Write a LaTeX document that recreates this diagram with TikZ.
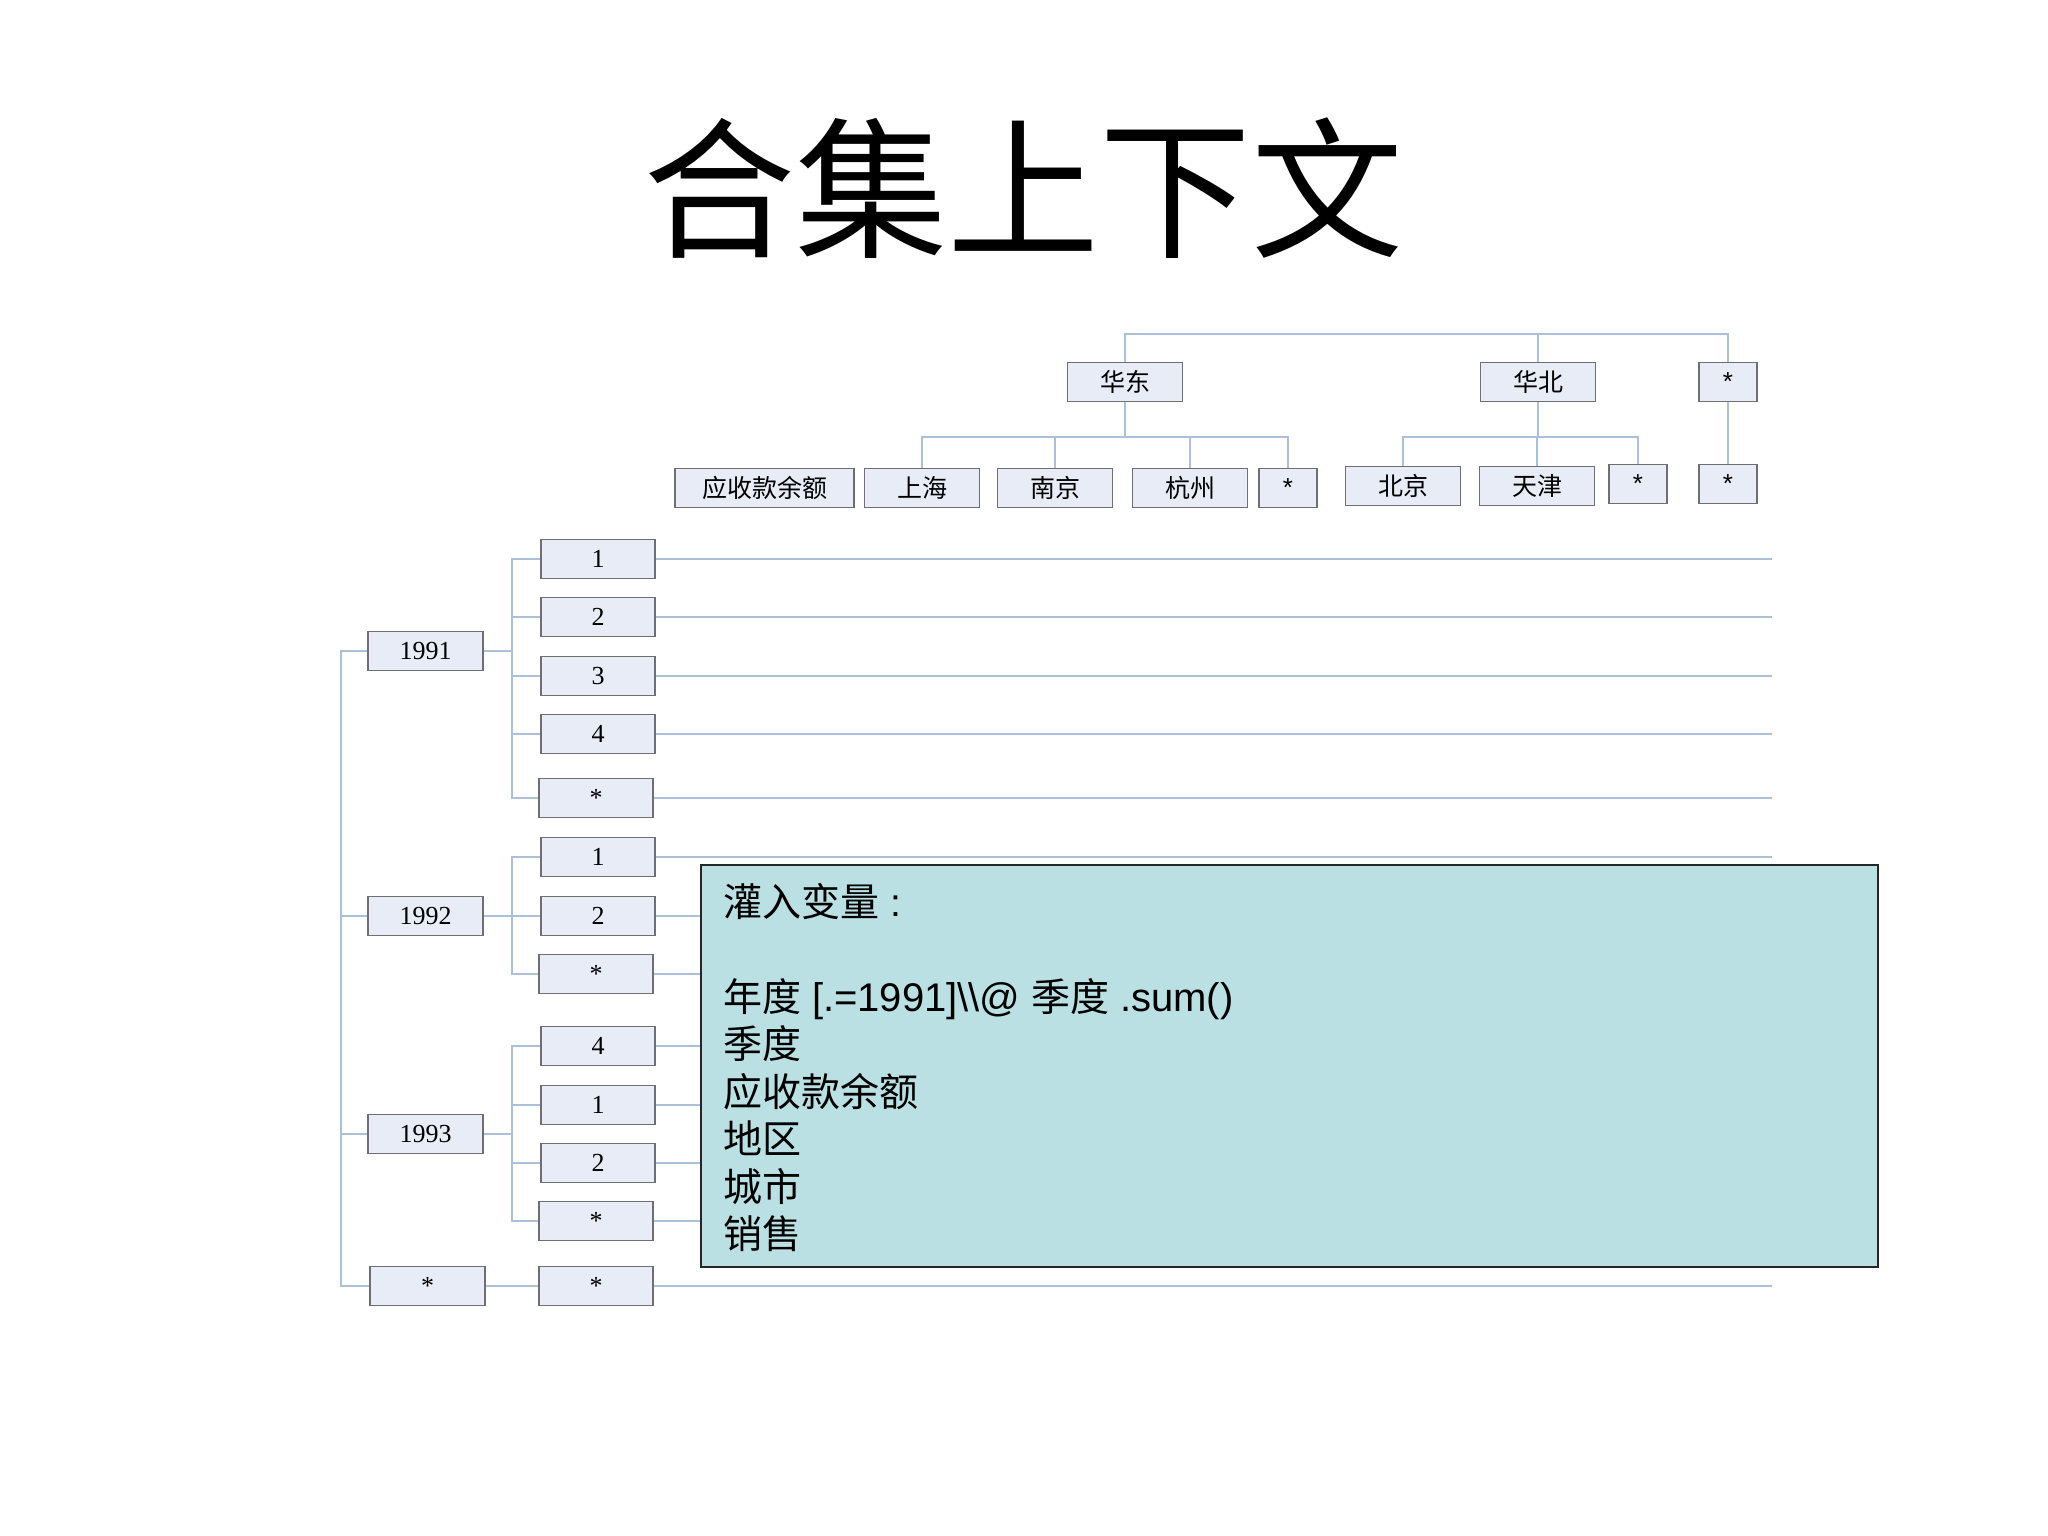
\documentclass[tikz,border=0pt]{standalone}
\usepackage{fontspec}
\setmainfont{Liberation Serif}
\newfontfamily\cjk{Noto Sans CJK SC}
\newfontfamily\arial{Liberation Sans}
\definecolor{linec}{RGB}{172,192,218}
\definecolor{boxf}{RGB}{232,236,246}
\definecolor{boxd}{RGB}{110,110,115}
\definecolor{tealf}{RGB}{187,224,227}
\tikzset{
  conn/.style={draw=linec, line width=1.6pt},
  qbox/.style={draw=boxd, fill=boxf, line width=1.6pt, minimum width=115pt, minimum height=39pt, inner sep=0pt, font=\fontsize{26}{30}\selectfont},
  cbox/.style={qbox, font=\fontsize{25}{30}\selectfont\cjk},
  sbox/.style={qbox, minimum width=58pt, font=\fontsize{26}{30}\selectfont\arial},
  ttext/.style={anchor=base west, inner sep=0pt, font=\fontsize{39}{47.5}\selectfont\arial},
}
\begin{document}
\begin{tikzpicture}[x=1pt, y=-1pt]
\useasboundingbox (0,0) rectangle (2048,1536);
\fill[white] (0,0) rectangle (2048,1536);
% title
\node[anchor=base, inner sep=0pt, font=\fontsize{152}{160}\selectfont\cjk] (title) at (1023,246) {合集上下文};
% top tree
\node[cbox] (hd) at (1125,382) {华东};
\node[cbox] (hb) at (1538,382) {华北};
\node[sbox] (ts) at (1728,382) {*};
\node[cbox, minimum width=179pt] (ysk) at (764.5,488) {应收款余额};
\node[cbox] (sh) at (922,488) {上海};
\node[cbox] (nj) at (1055,488) {南京};
\node[cbox] (hz) at (1190,488) {杭州};
\node[sbox] (hds) at (1288,488) {*};
\node[cbox] (bj) at (1403,486) {北京};
\node[cbox] (tj) at (1537,486) {天津};
\node[sbox] (hbs) at (1638,484) {*};
\node[sbox] (ss) at (1728,484) {*};
\coordinate (tb) at (0,334);
\coordinate (lb) at (0,437);
\draw[conn] (hd.north) -- (hd.north |- tb) -- (ts.north |- tb) -- (ts.north);
\draw[conn] (hb.north) -- (hb.north |- tb);
\draw[conn] (hd.south) -- (hd.south |- lb);
\draw[conn] (sh.north) -- (sh.north |- lb) -- (hds.north |- lb) -- (hds.north);
\draw[conn] (nj.north) -- (nj.north |- lb);
\draw[conn] (hz.north) -- (hz.north |- lb);
\draw[conn] (hb.south) -- (hb.south |- lb);
\draw[conn] (bj.north) -- (bj.north |- lb) -- (hbs.north |- lb) -- (hbs.north);
\draw[conn] (tj.north) -- (tj.north |- lb);
\draw[conn] (ts.south) -- (ss.north);
% left tree
\node[qbox] (y91) at (425.5,651) {1991};
\node[qbox] (y92) at (425.5,916) {1992};
\node[qbox] (y93) at (425.5,1134) {1993};
\node[qbox] (y94) at (427.5,1286) {*};
\node[qbox, minimum width=114pt] (q11) at (598,559) {1};
\node[qbox, minimum width=114pt] (q12) at (598,617) {2};
\node[qbox, minimum width=114pt] (q13) at (598,676) {3};
\node[qbox, minimum width=114pt] (q14) at (598,734) {4};
\node[qbox, minimum width=114pt] (q15) at (596,798) {*};
\node[qbox, minimum width=114pt] (q21) at (598,857) {1};
\node[qbox, minimum width=114pt] (q22) at (598,916) {2};
\node[qbox, minimum width=114pt] (q23) at (596,974) {*};
\node[qbox, minimum width=114pt] (q31) at (598,1046) {4};
\node[qbox, minimum width=114pt] (q32) at (598,1105) {1};
\node[qbox, minimum width=114pt] (q33) at (598,1163) {2};
\node[qbox, minimum width=114pt] (q34) at (596,1221) {*};
\node[qbox, minimum width=114pt] (q41) at (596,1286) {*};
\coordinate (lx) at (341,0);
\coordinate (busx) at (512,0);
\coordinate (rx) at (1772,0);
\draw[conn] (y91.west) -- (y91.west -| lx) -- (y94.west -| lx) -- (y94.west);
\draw[conn] (y92.west) -- (y92.west -| lx);
\draw[conn] (y93.west) -- (y93.west -| lx);
\draw[conn] (y91.east) -- (y91.east -| busx);
\draw[conn] (y92.east) -- (y92.east -| busx);
\draw[conn] (y93.east) -- (y93.east -| busx);
\draw[conn] (q11.west) -- (q11.west -| busx) -- (q15.west -| busx) -- (q15.west);
\foreach \q in {q12,q13,q14} \draw[conn] (\q.west) -- (\q.west -| busx);
\draw[conn] (q21.west) -- (q21.west -| busx) -- (q23.west -| busx) -- (q23.west);
\draw[conn] (q22.west) -- (q22.west -| busx);
\draw[conn] (q31.west) -- (q31.west -| busx) -- (q34.west -| busx) -- (q34.west);
\foreach \q in {q32,q33} \draw[conn] (\q.west) -- (\q.west -| busx);
\draw[conn] (y94.east) -- (q41.west);
\foreach \q in {q11,q12,q13,q14,q15,q21,q22,q23,q31,q32,q33,q34,q41}
  \draw[conn] (\q.east) -- (\q.east -| rx);
% teal note box
\node[draw=black!85, line width=2.6pt, fill=tealf, minimum width=1177pt, minimum height=402pt, inner sep=0pt] (note) at (1289.5,1066) {};
\node[ttext] (t1) at (723,916) {{\cjk 灌入变量} :};
\node[ttext] (t2) at (723,1011) {{\cjk 年度} {\fontsize{40}{47.5}\selectfont [.=1991]\textbackslash\textbackslash@} {\cjk 季度} {\fontsize{40}{47.5}\selectfont .sum()}};
\node[ttext] (t3) at (723,1058.5) {\cjk 季度};
\node[ttext] (t4) at (723,1106) {\cjk 应收款余额};
\node[ttext] (t5) at (723,1153.5) {\cjk 地区};
\node[ttext] (t6) at (723,1201) {\cjk 城市};
\node[ttext] (t7) at (723,1248.5) {\cjk 销售};
\end{tikzpicture}
\end{document}
